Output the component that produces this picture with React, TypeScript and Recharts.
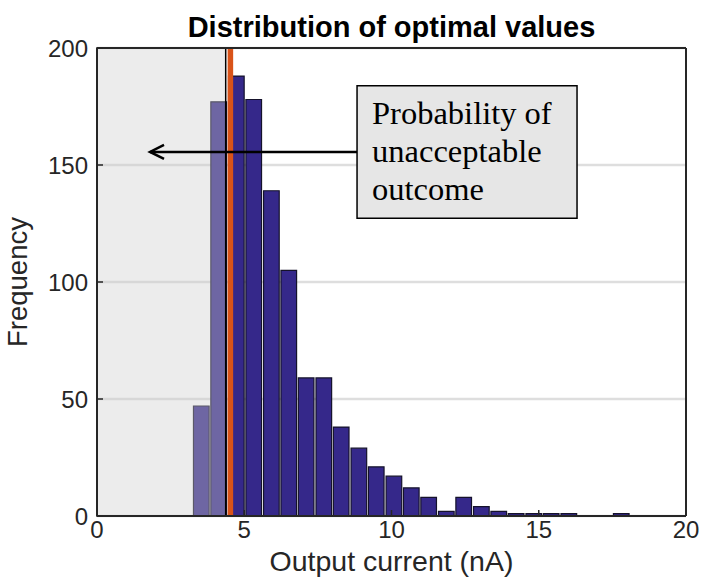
import { ComposedChart, Bar, XAxis, YAxis, CartesianGrid, ReferenceArea, ReferenceLine, Label } from 'recharts'

// histogram bins (left edges, nA) and counts
const binStarts = [
  3.24, 3.83, 4.43, 5.02, 5.62, 6.21, 6.8, 7.4, 7.99, 8.59, 9.18, 9.78, 10.37,
  10.96, 11.56, 12.15, 12.75, 13.34, 13.93, 14.53, 15.12, 15.72, 16.31, 16.9, 17.5,
]
const binWidth = 0.594
const counts = [47, 177, 188, 178, 139, 105, 59, 59, 38, 29, 21, 17, 12, 8, 2, 8, 4, 2, 1, 1, 1, 1, 0, 0, 1]

const xTicks = [0, 5, 10, 15, 20]
const yTicks = [0, 50, 100, 150, 200]

const threshold = 4.53
const shadedEnd = 4.37
const noteLines = ['Probability of', 'unacceptable', 'outcome']
const noteBox = { x1: 8.83, x2: 16.3, y1: 127.2, y2: 183.9 }
const arrowFrom = { x: 8.83, y: 155.6 }
const arrowTo = { x: 1.8, y: 155.6 }

const data = binStarts.map((s, i) => ({ x: s + binWidth / 2, count: counts[i] }))

const W = 702
const H = 577
const plotLeft = 97
const plotRight = 686
const plotTop = 48
const plotBottom = 516
const plotWidth = plotRight - plotLeft
// a hair wider than the bin so neighbouring bars share one edge
const barSize = (binWidth / 20) * plotWidth + 0.5

const sans = '"Liberation Sans", Arial, Helvetica, sans-serif'
const serif = '"Liberation Serif", "Times New Roman", serif'
const ink = '#262626'

const tickStyle = { fontSize: 24, fill: ink, fontFamily: sans }
const axisLine = { stroke: ink, strokeWidth: 2 }
const tickLine = { stroke: ink, strokeWidth: 1.5 }

const TitleLabel = (props: any) => {
  const { x, y, width } = props.viewBox
  return (
    <text x={x + width / 2} y={y - 10} textAnchor="middle" fontFamily={sans} fontWeight="bold" fontSize={29} fill="#000">
      Distribution of optimal values
    </text>
  )
}

const XLabel = (props: any) => {
  const { x, y, width } = props.viewBox
  return (
    <text x={x + width / 2} y={y + 55} textAnchor="middle" fontFamily={sans} fontSize={28.5} fill={ink}>
      Output current (nA)
    </text>
  )
}

const YLabel = (props: any) => {
  const { x, y, height } = props.viewBox
  const cx = x - 10
  const cy = y + height / 2
  return (
    <text x={cx} y={cy} transform={`rotate(-90 ${cx} ${cy})`} textAnchor="middle" fontFamily={sans} fontSize={27.5} fill={ink}>
      Frequency
    </text>
  )
}

const NoteText = (props: any) => {
  const { x, y } = props.viewBox
  return (
    <text fontFamily={serif} fontSize={32.5} fill="#000">
      {noteLines.map((line, i) => (
        <tspan key={line} x={x + 15} y={y + 38 + i * 38}>
          {line}
        </tspan>
      ))}
    </text>
  )
}

const Arrow = (props: any) => {
  const { x1, y1, x2, y2 } = props
  const dir = Math.sign(x2 - x1) || 1
  return (
    <g>
      <line x1={x1} y1={y1} x2={x2} y2={y2} stroke="#000" strokeWidth={2.5} />
      <polyline
        points={`${x2 - dir * 14},${y2 - 7} ${x2},${y2} ${x2 - dir * 14},${y2 + 7}`}
        fill="none"
        stroke="#000"
        strokeWidth={2.5}
      />
    </g>
  )
}

export default function App() {
  return (
    <div style={{ position: 'absolute', left: 0, top: 0, width: W, height: H, background: '#fff' }}>
      <ComposedChart
        width={W}
        height={H}
        data={data}
        margin={{ top: plotTop - 1, right: W - plotRight - 1, bottom: H - plotBottom - 30, left: plotLeft - 60 }}
      >
        <CartesianGrid vertical={false} stroke="#dedede" strokeWidth={2.5} />
        <XAxis
          dataKey="x"
          type="number"
          domain={[0, 20]}
          ticks={xTicks}
          height={30}
          tickSize={-6}
          tickMargin={11}
          tick={tickStyle}
          axisLine={axisLine}
          tickLine={tickLine}
        >
          <Label content={XLabel} />
        </XAxis>
        <XAxis
          xAxisId="top"
          orientation="top"
          type="number"
          domain={[0, 20]}
          ticks={xTicks}
          height={1}
          tickSize={-6}
          tick={false}
          axisLine={axisLine}
          tickLine={tickLine}
        >
          <Label content={TitleLabel} />
        </XAxis>
        <YAxis
          type="number"
          domain={[0, 200]}
          ticks={yTicks}
          width={60}
          tickSize={-6}
          tickMargin={15}
          tick={tickStyle}
          axisLine={axisLine}
          tickLine={tickLine}
        >
          <Label content={YLabel} />
        </YAxis>
        <YAxis
          yAxisId="right"
          orientation="right"
          type="number"
          domain={[0, 200]}
          ticks={yTicks}
          width={1}
          tickSize={-6}
          tick={false}
          axisLine={axisLine}
          tickLine={tickLine}
        />
        <Bar dataKey="count" fill="#35288a" stroke="#15122b" strokeWidth={1.2} barSize={barSize} isAnimationActive={false} />
        <ReferenceArea
          x1={0}
          x2={shadedEnd}
          y1={0}
          y2={200}
          fill="#cdcdcd"
          fillOpacity={0.38}
          stroke="#000"
          strokeWidth={1.5}
          zIndex={400}
        />
        <ReferenceLine x={threshold} stroke="#d95319" strokeWidth={5.5} zIndex={450} />
        <ReferenceLine segment={[arrowFrom, arrowTo]} shape={Arrow} zIndex={460} />
        <ReferenceArea
          x1={noteBox.x1}
          x2={noteBox.x2}
          y1={noteBox.y1}
          y2={noteBox.y2}
          fill="#e6e6e6"
          fillOpacity={1}
          stroke="#000"
          strokeWidth={1.5}
          zIndex={470}
        >
          <Label content={NoteText} />
        </ReferenceArea>
      </ComposedChart>
    </div>
  )
}
